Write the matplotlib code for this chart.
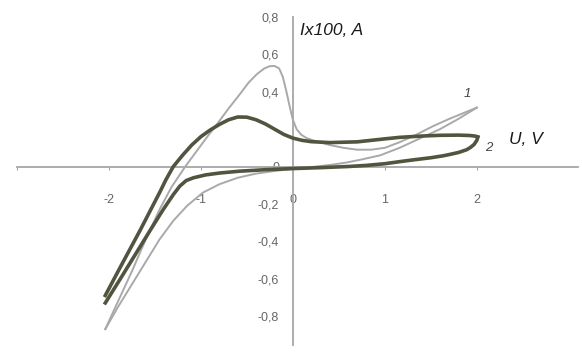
import matplotlib
matplotlib.use("Agg")
import matplotlib.pyplot as plt

# curve 1 (light), forward and reverse scan
u1_fwd = [-2.04, -1.9, -1.75, -1.6, -1.45, -1.32, -1.17, -1.05, -0.93, -0.82, -0.7, -0.58,
          -0.48, -0.39, -0.31, -0.25, -0.2, -0.15, -0.11, -0.07, -0.03, 0.0, 0.04, 0.09,
          0.15, 0.25, 0.4, 0.55, 0.7, 0.85, 1.0, 1.16, 1.34, 1.52, 1.7, 1.85, 2.0]
i1_fwd = [-0.87, -0.72, -0.56, -0.39, -0.23, -0.11, 0.0, 0.08, 0.16, 0.23, 0.31, 0.385,
          0.45, 0.495, 0.525, 0.537, 0.538, 0.525, 0.48, 0.4, 0.31, 0.25, 0.2, 0.17,
          0.152, 0.135, 0.115, 0.1, 0.09, 0.09, 0.1, 0.13, 0.17, 0.215, 0.255, 0.285, 0.315]
u1_rev = [2.0, 1.8, 1.6, 1.38, 1.16, 0.95, 0.75, 0.59, 0.4, 0.2, 0.0, -0.2, -0.4, -0.6,
          -0.8, -0.98, -1.15, -1.3, -1.45, -1.6, -1.75, -1.9, -2.04]
i1_rev = [0.315, 0.255, 0.2, 0.15, 0.1, 0.06, 0.038, 0.022, 0.008, -0.003, -0.013,
          -0.024, -0.038, -0.06, -0.095, -0.14, -0.21, -0.29, -0.39, -0.51, -0.63, -0.75, -0.87]

# curve 2 (dark), upper and lower branch
u2_up = [-2.04, -1.9, -1.78, -1.66, -1.55, -1.45, -1.38, -1.3, -1.2, -1.1, -1.0, -0.9,
         -0.8, -0.7, -0.6, -0.5, -0.4, -0.3, -0.2, -0.1, 0.0, 0.1, 0.2, 0.4, 0.7, 1.0,
         1.16, 1.4, 1.6, 1.8, 1.92, 1.98, 2.01]
i2_up = [-0.69, -0.56, -0.45, -0.34, -0.235, -0.14, -0.07, 0.0, 0.06, 0.115, 0.16, 0.195,
         0.225, 0.25, 0.265, 0.264, 0.25, 0.228, 0.2, 0.172, 0.152, 0.14, 0.133, 0.128,
         0.132, 0.148, 0.156, 0.163, 0.167, 0.168, 0.166, 0.163, 0.158]
u2_low = [2.01, 2.0, 1.97, 1.93, 1.89, 1.8, 1.7, 1.63, 1.5, 1.3, 1.16, 1.0, 0.8, 0.6, 0.3,
          0.0, -0.3, -0.58, -0.8, -0.95, -1.08, -1.16, -1.23, -1.3, -1.41, -1.55, -1.7,
          -1.85, -2.04]
i2_low = [0.158, 0.14, 0.118, 0.102, 0.09, 0.075, 0.064, 0.057, 0.047, 0.035, 0.026,
          0.015, 0.006, 0.0, -0.006, -0.011, -0.017, -0.025, -0.035, -0.045, -0.06, -0.075,
          -0.105, -0.15, -0.23, -0.34, -0.46, -0.58, -0.73]

x_ticks = [-3, -2, -1, 0, 1, 2]
x_labels = ["", "-2", "-1", "0", "1", "2"]
y_ticks = [-0.8, -0.6, -0.4, -0.2, 0, 0.4, 0.6, 0.8]
y_labels = ["-0,8", "-0,6", "-0,4", "-0,2", "0", "0,4", "0,6", "0,8"]

plt.rcParams['font.family'] = ['Liberation Sans', 'DejaVu Sans']

fig = plt.figure(figsize=(5.82, 3.54), dpi=100)
ax = fig.add_axes([17 / 582, 9 / 354, 561 / 582, 328 / 354])

light = '#a9a9a9'
dark = '#50553f'
ax.plot(u1_fwd, i1_fwd, color=light, lw=1.4, zorder=3)
ax.plot(u1_rev, i1_rev, color=light, lw=1.4, zorder=3)
ax.plot(u2_up, i2_up, color=dark, lw=2.6, zorder=4, solid_joinstyle='round')
ax.plot(u2_low, i2_low, color=dark, lw=2.6, zorder=4, solid_joinstyle='round')

ax.set_xlim(-3.0, 3.1)
ax.set_ylim(-0.955, 0.8)

for s in ['top', 'right']:
    ax.spines[s].set_visible(False)
ax.spines['left'].set_position(('data', 0))
ax.spines['bottom'].set_position(('data', 0))
for s in ['left', 'bottom']:
    ax.spines[s].set_color('#a6a6a6')
    ax.spines[s].set_linewidth(1.3)

ax.set_xticks(x_ticks)
ax.set_xticklabels(x_labels)
ax.set_yticks(y_ticks)
ax.set_yticklabels(y_labels)
ax.tick_params(axis='x', direction='out', length=2.5, color='#a6a6a6', pad=17,
               labelsize=9, labelcolor='#666666')
ax.tick_params(axis='y', length=0, pad=10, labelsize=9, labelcolor='#666666')

ax.text(0.08, 0.73, "Ix100, A", fontsize=12.5, style='italic', color='#1a1a1a',
        ha='left', va='center')
ax.text(2.35, 0.145, "U, V", fontsize=12.5, style='italic', color='#1a1a1a',
        ha='left', va='center')
ax.text(1.9, 0.39, "1", fontsize=9.5, style='italic', color='#444444', ha='center', va='center')
ax.text(2.13, 0.1, "2", fontsize=9.5, style='italic', color='#444444', ha='center', va='center')

fig.savefig("out.png", dpi=100)
